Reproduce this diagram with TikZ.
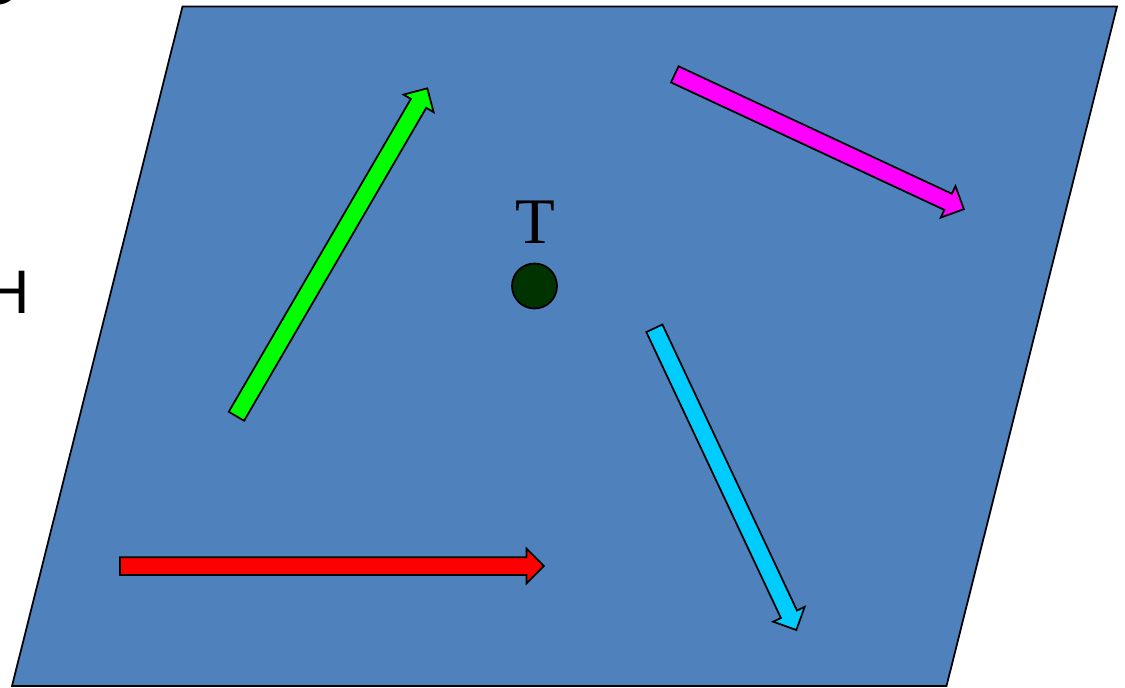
\documentclass[tikz,border=0pt]{standalone}
\usepackage{fontspec}
\setmainfont{Liberation Serif}
\newfontfamily\labelsans{Liberation Sans}
\usetikzlibrary{shapes.arrows}

\definecolor{planeblue}{HTML}{4F81BD}
\definecolor{dotgreen}{HTML}{003300}
\definecolor{arrowcyan}{HTML}{00CCFF}
\definecolor{arrowmagenta}{HTML}{FF00FF}
\definecolor{arrowgreen}{HTML}{00FF00}
\definecolor{arrowred}{HTML}{FF0000}

\begin{document}
\begin{tikzpicture}
[
	x=0.02cm,
	y=-0.02cm,
	blockarrow/.style={single arrow,draw=black,line width=1pt,inner xsep=0pt,inner ysep=0.16cm,
		text height=0pt,text depth=0pt,single arrow head extend=0.17cm,anchor=tail},
	targetpt/.style={circle,draw=black,line width=1pt,fill=dotgreen,inner sep=0pt,minimum size=0.9cm}
]
	\useasboundingbox (0,0) rectangle (1125,687);

	% plane
	\draw[fill=planeblue,line width=1pt] (182.5,6.5) -- (1117,6.5) -- (946.5,686) -- (12,686) -- cycle;

	% letters at the left edge
	\node[anchor=base west,inner sep=0pt,font=\labelsans\fontsize{35}{40}\selectfont] (hlabel) at (-15,313) {H};
	\node[anchor=base,inner sep=0pt,font=\labelsans\fontsize{35}{40}\selectfont] (olabel) at (-3,4) {O};

	% target
	\node[anchor=base,inner sep=0pt,font=\fontsize{37}{40}\selectfont] (tlabel) at (535,243) {T};
	\node[targetpt] (target) at (534.5,286) {};

	% arrows
	\node[blockarrow,fill=arrowred,minimum height=8.48cm] (redarrow) at (119,566) {};
	\node[blockarrow,fill=arrowgreen,minimum height=7.59cm,rotate=59.8] (greenarrow) at (236,417) {};
	\node[blockarrow,fill=arrowmagenta,minimum height=6.38cm,rotate=-25] (magentaarrow) at (674,74) {};
	\node[blockarrow,fill=arrowcyan,minimum height=6.67cm,rotate=-64.8] (cyanarrow) at (654,327.5) {};

\end{tikzpicture}
\end{document}
